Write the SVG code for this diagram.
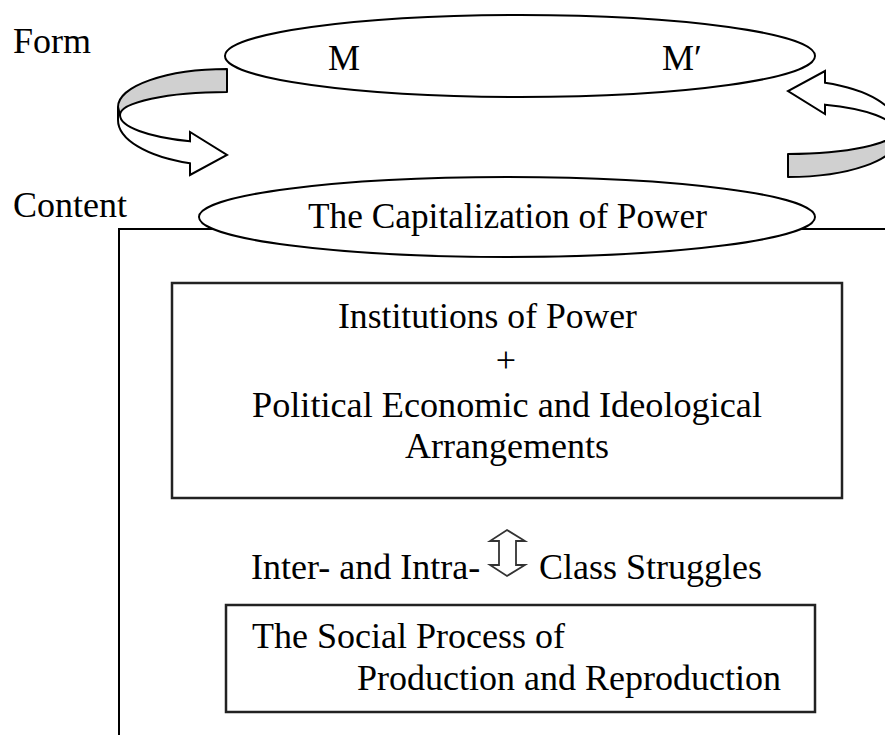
<svg xmlns="http://www.w3.org/2000/svg" xmlns:xlink="http://www.w3.org/1999/xlink" width="885" height="735" viewBox="0 0 885 735">
<style>
text{font-family:"Liberation Serif","Times New Roman",serif;font-size:36px;fill:#000}
.shape{fill:#fff;stroke:#000;stroke-width:2}
.box{fill:#fff;stroke:#222;stroke-width:2.5}
.band{fill:#d0d0d0;stroke:#000;stroke-width:2;stroke-linejoin:round}
.arr{fill:#fff;stroke:#000;stroke-width:2;stroke-linejoin:miter}
</style>
<defs>
<g id="curvedArrow">
<path class="arr" d="M120,115 A107,28 0 0 0 190,141.3 L190,132 L227,155 L190,175 L190,163.3 A109,46 0 0 1 118,120 L118,107 Z"/>
<path class="band" d="M227,69 A109,38 0 0 0 118,107 L120,115 A107,23 0 0 1 227,92 Z"/>
</g>
</defs>
<rect width="885" height="735" fill="#fff"/>
<g id="labels">
<text x="13" y="53">Form</text>
<text x="13" y="217">Content</text>
</g>
<g id="frame">
<path d="M119,745 L119,229 L895,229" fill="none" stroke="#000" stroke-width="2"/>
</g>
<g id="connectors">
<use xlink:href="#curvedArrow" href="#curvedArrow"/>
<use xlink:href="#curvedArrow" href="#curvedArrow" transform="rotate(180 507.5 123)"/>
<polygon points="507,530 525,541 516,541 516,565 525,565 507,576 490,565 499,565 499,541 490,541" fill="#fff" stroke="#333" stroke-width="1.8" stroke-linejoin="miter"/>
</g>
<g id="form">
<ellipse class="shape" cx="520" cy="56" rx="295" ry="41"/>
<text x="328" y="70">M</text>
<text x="662" y="70">M′</text>
</g>
<g id="capitalization">
<ellipse class="shape" cx="507" cy="217" rx="308" ry="40"/>
<text x="308" y="228" textLength="399" lengthAdjust="spacingAndGlyphs">The Capitalization of Power</text>
</g>
<g id="institutions">
<rect class="box" x="172" y="283" width="670" height="215"/>
<text x="338" y="328" textLength="299" lengthAdjust="spacingAndGlyphs">Institutions of Power</text>
<text x="506" y="372" text-anchor="middle">+</text>
<text x="252" y="417" textLength="510" lengthAdjust="spacingAndGlyphs">Political Economic and Ideological</text>
<text x="405" y="458">Arrangements</text>
</g>
<g id="struggles">
<text x="251" y="579">Inter- and Intra-</text>
<text x="539" y="579">Class Struggles</text>
</g>
<g id="social">
<rect class="box" x="226" y="605" width="589" height="107"/>
<text x="252" y="648">The Social Process of</text>
<text x="357" y="690">Production and Reproduction</text>
</g>
</svg>
